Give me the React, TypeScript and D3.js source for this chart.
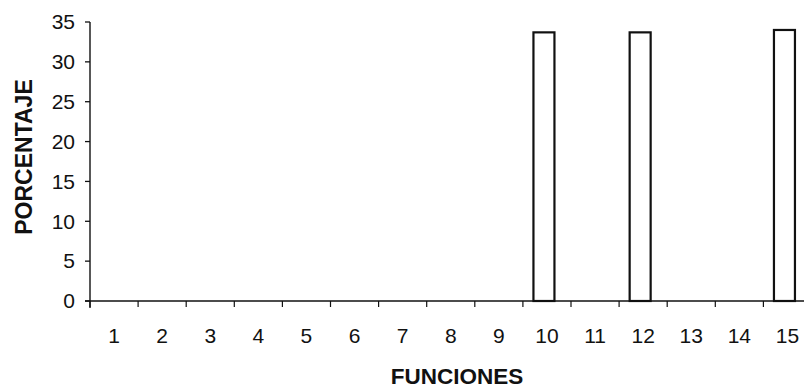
import React from "react";
import * as d3 from "d3";

const categories = ["1","2","3","4","5","6","7","8","9","10","11","12","13","14","15"];
const values = [0,0,0,0,0,0,0,0,0,33.7,0,33.7,0,0,34.0];
const yTicks = [0,5,10,15,20,25,30,35];

const W = 804, H = 389;
const left = 90, top = 22, bottom = 301, right = 811.5;

export default function App() {
  const x = d3.scaleBand<string>().domain(categories).range([left, right]).paddingInner(0).paddingOuter(0);
  const y = d3.scaleLinear().domain([0, 35]).range([bottom, top]);
  const step = x.step();
  const barW = 21;
  const font = "'Liberation Sans', Arial, sans-serif";
  const ink = "#111";
  return (
    <div style={{ position: "absolute", left: 0, top: 0 }}>
      <svg width={W} height={H} style={{ display: "block", background: "#fff" }}>
        {/* bars */}
        {categories.map((c, i) =>
          values[i] > 0 ? (
            <rect key={c}
              x={(x(c) as number) + step / 2 - barW / 2 - 3}
              y={y(values[i])}
              width={barW}
              height={y(0) - y(values[i])}
              fill="#fff" stroke={ink} strokeWidth={2.2} />
          ) : null
        )}
        {/* y axis */}
        <line x1={left} x2={left} y1={y(35)} y2={bottom + 7} stroke={ink} strokeWidth={1.4} />
        {yTicks.map(t => (
          <g key={t}>
            <line x1={left - 5} x2={left} y1={y(t)} y2={y(t)} stroke={ink} strokeWidth={1.3} />
            <text x={left - 15} y={y(t)} dy="0.35em" textAnchor="end" fontFamily={font} fontSize={21} fill={ink}>{t}</text>
          </g>
        ))}
        {/* x axis */}
        <line x1={left - 5} x2={W} y1={bottom} y2={bottom} stroke={ink} strokeWidth={1.6} />
        {categories.map(c => (
          <g key={c}>
            <line x1={x(c) as number} x2={x(c) as number} y1={bottom} y2={bottom + 6} stroke={ink} strokeWidth={1.2} />
            <text x={(x(c) as number) + step / 2} y={343} textAnchor="middle" fontFamily={font} fontSize={21} fill={ink}>{c}</text>
          </g>
        ))}
        {/* titles */}
        <text x={457} y={384} textAnchor="middle" fontFamily={font} fontSize={22.5} fontWeight="bold" fill={ink}>FUNCIONES</text>
        <text transform={`translate(31.5,157) rotate(-90)`} textAnchor="middle" fontFamily={font} fontSize={23} fontWeight="bold" fill={ink}>PORCENTAJE</text>
      </svg>
    </div>
  );
}
